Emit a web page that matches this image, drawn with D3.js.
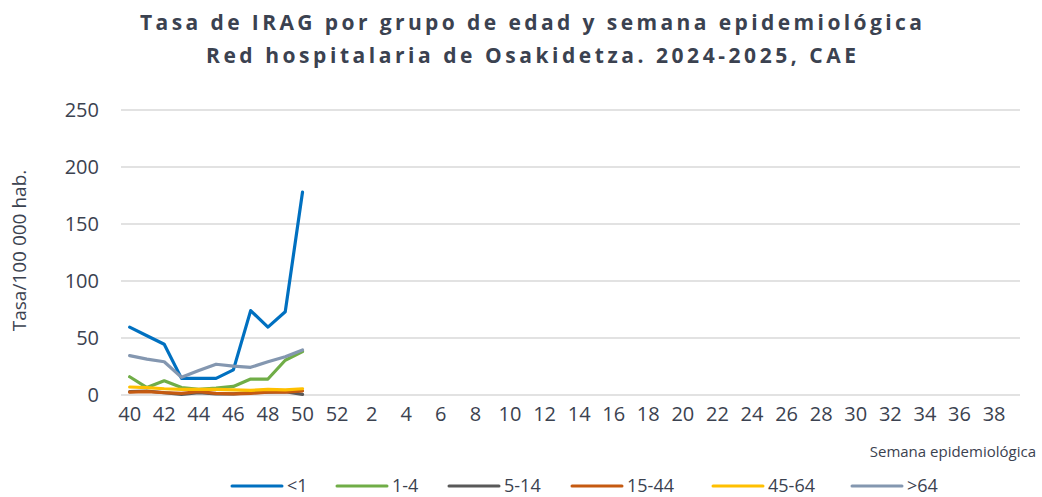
<!DOCTYPE html>
<html>
<head>
<meta charset="utf-8">
<script src="https://cdn.jsdelivr.net/npm/d3@7"></script>
<style>
  body { margin: 0; background: #fff; }
  text { font-family: "Open Sans", sans-serif; fill: #3b4250; }
</style>
</head>
<body>
<div class="main"></div>
<script>
// semanas epidemiologicas 40..52 y 1..39
var weeks = [40, 41, 42, 43, 44, 45, 46, 47, 48, 49, 50, 51, 52,
  1, 2, 3, 4, 5, 6, 7, 8, 9, 10, 11, 12, 13, 14, 15, 16, 17, 18, 19, 20,
  21, 22, 23, 24, 25, 26, 27, 28, 29, 30, 31, 32, 33, 34, 35, 36, 37, 38, 39];
var tickWeeks = [40, 42, 44, 46, 48, 50, 52, 2, 4, 6, 8, 10, 12, 14, 16, 18, 20,
  22, 24, 26, 28, 30, 32, 34, 36, 38];
var yTicks = [0, 50, 100, 150, 200, 250];

// tasas (semanas 40-50)
var lt1 = [59.5, 52, 44.5, 14.6, 14.6, 14.6, 22, 74, 59.5, 73, 178];
var g1_4 = [16, 6.5, 12.5, 6.5, 5, 6, 7.5, 14, 14, 30.5, 38];
var g5_14 = [3, 3.5, 2, 0.5, 2, 1, 1, 2, 2.5, 3, 0.5];
var g15_44 = [2.5, 3, 2, 1.5, 3, 1.5, 1, 1.5, 2.5, 2.5, 3.5];
var g45_64 = [7, 6.5, 5.5, 5, 5, 5, 4.5, 4, 5, 4.5, 5.5];
var gt64 = [34.5, 31.5, 29.2, 15.5, 21.5, 27, 25.4, 24.3, 29.2, 33.6, 39.5];

var seriesNames = ["<1", "1-4", "5-14", "15-44", "45-64", ">64"];
var seriesColors = ["#0070C0", "#70AD47", "#595959", "#C55A11", "#FFC000", "#8497B0"];
var seriesData = [lt1, g1_4, g5_14, g15_44, g45_64, gt64];

var fullwidth = 1042, fullheight = 497;
var margin = { top: 110, right: 22, bottom: 102, left: 121 };
var width = fullwidth - margin.left - margin.right;
var height = fullheight - margin.top - margin.bottom;

var root = d3.select(".main").append("svg")
  .attr("width", fullwidth)
  .attr("height", fullheight);

// titulo
var titleLines = ["Tasa de IRAG por grupo de edad y semana epidemiológica",
  "Red hospitalaria de Osakidetza. 2024-2025, CAE"];
var titleWidths = [782, 650];
titleLines.forEach(function(t, i) {
  root.append("text")
    .attr("x", fullwidth / 2 + 10)
    .attr("y", 30 + i * 33)
    .attr("text-anchor", "middle")
    .attr("textLength", titleWidths[i])
    .attr("lengthAdjust", "spacing")
    .style("font-size", "21px")
    .style("font-weight", "bold")
    .text(t);
});

var svg = root.append("g")
  .attr("transform", "translate(" + margin.left + "," + margin.top + ")");

// scales
var x = d3.scaleBand()
  .domain(weeks.map(function(d, i) { return i; }))
  .range([0, width]);

var y = d3.scaleLinear()
  .domain([0, 250])
  .range([height, 0]);

function xPos(i) { return x(i) + x.bandwidth() / 2; }

// gridlines
svg.append("g")
  .selectAll("line")
  .data(yTicks)
  .join("line")
  .attr("x1", 0).attr("x2", width)
  .attr("y1", function(d) { return y(d); })
  .attr("y2", function(d) { return y(d); })
  .attr("stroke", "#d9d9d9")
  .attr("stroke-width", 1.5);

// y axis labels
var yAxis = svg.append("g")
  .attr("transform", "translate(-22,0)")
  .call(d3.axisLeft(y).tickValues(yTicks).tickSize(0).tickPadding(0));
yAxis.select(".domain").remove();
yAxis.selectAll("text")
  .style("font-size", "20px")
  .style("font-family", "Open Sans, sans-serif")
  .attr("fill", "#3b4250");

// x axis labels (una de cada dos semanas)
var tickIdx = [];
weeks.forEach(function(w, i) { if (tickWeeks.indexOf(w) >= 0) tickIdx.push(i); });
var xAxis = svg.append("g")
  .attr("transform", "translate(0," + height + ")")
  .call(d3.axisBottom(x).tickValues(tickIdx)
    .tickFormat(function(i) { return weeks[i]; })
    .tickSize(0).tickPadding(12));
xAxis.select(".domain").remove();
xAxis.selectAll("text")
  .style("font-size", "20px")
  .style("font-family", "Open Sans, sans-serif")
  .attr("fill", "#3b4250");

// axis titles
root.append("text")
  .attr("transform", "translate(26," + (margin.top + height / 2 - 2) + ") rotate(-90)")
  .attr("text-anchor", "middle")
  .style("font-size", "19px")
  .text("Tasa/100 000 hab.");

root.append("text")
  .attr("x", 1036)
  .attr("y", 457)
  .attr("text-anchor", "end")
  .style("font-size", "15px")
  .text("Semana epidemiológica");

// lines
var line = d3.line()
  .x(function(d, i) { return xPos(i); })
  .y(function(d) { return y(d); });

svg.append("g")
  .selectAll("path")
  .data(seriesData)
  .join("path")
  .attr("fill", "none")
  .attr("stroke", function(d, i) { return seriesColors[i]; })
  .attr("stroke-width", 3.2)
  .attr("stroke-linejoin", "round")
  .attr("stroke-linecap", "round")
  .attr("d", line);

// legend
var legendX = [232, 337, 449, 572, 713, 852];
var legend = root.append("g")
  .selectAll("g")
  .data(seriesNames)
  .join("g")
  .attr("transform", function(d, i) { return "translate(" + legendX[i] + ",486)"; });

legend.append("line")
  .attr("x1", 0).attr("x2", 50)
  .attr("stroke", function(d, i) { return seriesColors[i]; })
  .attr("stroke-width", 3)
  .attr("stroke-linecap", "round");

legend.append("text")
  .attr("x", 55)
  .attr("y", 6)
  .style("font-size", "18px")
  .text(function(d) { return d; });
</script>
</body>
</html>
